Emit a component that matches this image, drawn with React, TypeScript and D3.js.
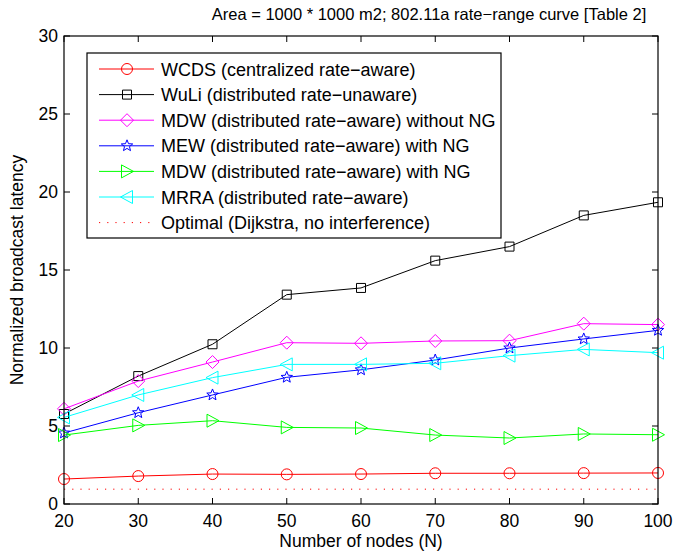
import React, { useEffect } from "react";
import * as d3 from "d3";

// --- Data ---
const nodes = [20, 30, 40, 50, 60, 70, 80, 90, 100];
const wcds = [1.6, 1.79, 1.92, 1.9, 1.92, 1.97, 1.97, 1.98, 1.99];
const wuli = [5.77, 8.2, 10.24, 13.42, 13.85, 15.6, 16.5, 18.5, 19.34];
const mdwNoNg = [6.1, 7.88, 9.1, 10.34, 10.3, 10.45, 10.47, 11.56, 11.5];
const mew = [4.55, 5.85, 6.99, 8.12, 8.6, 9.23, 10.0, 10.58, 11.13];
const mdwNg = [4.42, 5.04, 5.34, 4.91, 4.87, 4.42, 4.23, 4.49, 4.44];
const mrra = [5.55, 6.99, 8.1, 8.95, 8.95, 9.02, 9.51, 9.91, 9.7];
const optimal = [0.95, 0.95, 0.95, 0.95, 0.95, 0.95, 0.95, 0.95, 0.95];

const xTicks = [20, 30, 40, 50, 60, 70, 80, 90, 100];
const yTicks = [0, 5, 10, 15, 20, 25, 30];

const seriesNames = [
  "WCDS (centralized rate\u2212aware)",
  "WuLi (distributed rate\u2212unaware)",
  "MDW (distributed rate\u2212aware) without NG",
  "MEW (distributed rate\u2212aware) with NG",
  "MDW (distributed rate\u2212aware) with NG",
  "MRRA (distributed rate\u2212aware)",
  "Optimal (Dijkstra, no interference)",
];
const seriesValues = [wcds, wuli, mdwNoNg, mew, mdwNg, mrra, optimal];
const seriesColors = ["#ff0000", "#000000", "#ff00ff", "#0000ff", "#00ff00", "#00ffff", "#ff0000"];
const seriesMarkers = ["circle", "square", "diamond", "star", "triRight", "triLeft", "none"];

const W = 674;
const H = 556;
const margin = { top: 36, right: 16, bottom: 52, left: 64 };
const FONT = "'Liberation Sans', Arial, Helvetica, sans-serif";
const FS = 17.5;

function markerPath(type: string): string {
  switch (type) {
    case "circle": {
      const p = d3.path();
      p.arc(0, 0, 5.5, 0, Math.PI * 2);
      return p.toString();
    }
    case "square":
      return "M-4.5,-4.5L4.5,-4.5L4.5,4.5L-4.5,4.5Z";
    case "diamond":
      return "M0,-6.5L6.5,0L0,6.5L-6.5,0Z";
    case "triRight":
      return "M-5.5,-6.5L6.5,0L-5.5,6.5Z";
    case "triLeft":
      return "M5.5,-6.5L-6.5,0L5.5,6.5Z";
    case "star": {
      const pts: string[] = [];
      for (let i = 0; i < 10; i++) {
        const r = i % 2 === 0 ? 6 : 2.6;
        const a = -Math.PI / 2 + (i * Math.PI) / 5;
        pts.push(`${(r * Math.cos(a)).toFixed(2)},${(r * Math.sin(a)).toFixed(2)}`);
      }
      return "M" + pts.join("L") + "Z";
    }
    default:
      return "";
  }
}

export default function App() {
  useEffect(() => {
    document.body.style.margin = "0";
  }, []);

  const innerW = W - margin.left - margin.right;
  const innerH = H - margin.top - margin.bottom;

  const x = d3.scaleLinear().domain([20, 100]).range([0, innerW]);
  const y = d3.scaleLinear().domain([0, 30]).range([innerH, 0]);

  const line = d3
    .line<number>()
    .x((_, i) => x(nodes[i]))
    .y(d => y(d));

  const tickLen = 6;

  // legend layout
  const lg = { x: 87 - margin.left, y: 53 - margin.top, w: 414, h: 185, row: 25.6 };

  return (
    <svg width={W} height={H} style={{ display: "block", background: "#fff" }} fontFamily={FONT}>
      <text x={429} y={20} textAnchor="middle" fontSize={16.5} fill="#000">
        Area = 1000 * 1000 m2; 802.11a rate{"\u2212"}range curve [Table 2]
      </text>
      <g transform={`translate(${margin.left},${margin.top})`}>
        {/* series */}
        {seriesValues.map((vals, si) => (
          <g key={si}>
            <path
              d={line(vals) || ""}
              fill="none"
              stroke={seriesColors[si]}
              strokeWidth={1}
              strokeDasharray={seriesMarkers[si] === "none" ? "1.2,7" : undefined}
            />
            {seriesMarkers[si] !== "none" &&
              vals.map((v, i) => (
                <path
                  key={i}
                  d={markerPath(seriesMarkers[si])}
                  transform={`translate(${x(nodes[i])},${y(v)})`}
                  fill="none"
                  stroke={seriesColors[si]}
                  strokeWidth={1}
                />
              ))}
          </g>
        ))}

        {/* axes box */}
        <rect x={0} y={0} width={innerW} height={innerH} fill="none" stroke="#000" strokeWidth={1.2} />
        {xTicks.map(t => (
          <g key={"x" + t}>
            <line x1={x(t)} x2={x(t)} y1={innerH} y2={innerH - tickLen} stroke="#000" />
            <line x1={x(t)} x2={x(t)} y1={0} y2={tickLen} stroke="#000" />
            <text x={x(t)} y={innerH + 23} textAnchor="middle" fontSize={FS} fill="#000">
              {t}
            </text>
          </g>
        ))}
        {yTicks.map(t => (
          <g key={"y" + t}>
            <line x1={0} x2={tickLen} y1={y(t)} y2={y(t)} stroke="#000" />
            <line x1={innerW} x2={innerW - tickLen} y1={y(t)} y2={y(t)} stroke="#000" />
            <text x={-6} y={y(t) + 6} textAnchor="end" fontSize={FS} fill="#000">
              {t}
            </text>
          </g>
        ))}

        {/* legend */}
        <rect x={lg.x} y={lg.y} width={lg.w} height={lg.h} fill="#fff" stroke="#000" strokeWidth={1.2} />
        {seriesNames.map((name, si) => {
          const cy = lg.y + 16 + si * lg.row;
          return (
            <g key={"lg" + si}>
              <line
                x1={lg.x + 12}
                x2={lg.x + 67}
                y1={cy}
                y2={cy}
                stroke={seriesColors[si]}
                strokeWidth={1}
                strokeDasharray={seriesMarkers[si] === "none" ? "1.2,7" : undefined}
              />
              {seriesMarkers[si] !== "none" && (
                <path
                  d={markerPath(seriesMarkers[si])}
                  transform={`translate(${lg.x + 40},${cy})`}
                  fill="none"
                  stroke={seriesColors[si]}
                />
              )}
              <text x={lg.x + 74} y={cy + 6.5} fontSize={18} fill="#000">
                {name}
              </text>
            </g>
          );
        })}
      </g>
      <text x={361} y={547} textAnchor="middle" fontSize={FS} fill="#000">
        Number of nodes (N)
      </text>
      <text
        transform={`translate(23,270) rotate(-90)`}
        textAnchor="middle"
        fontSize={FS}
        fill="#000"
      >
        Normalized broadcast latency
      </text>
    </svg>
  );
}
